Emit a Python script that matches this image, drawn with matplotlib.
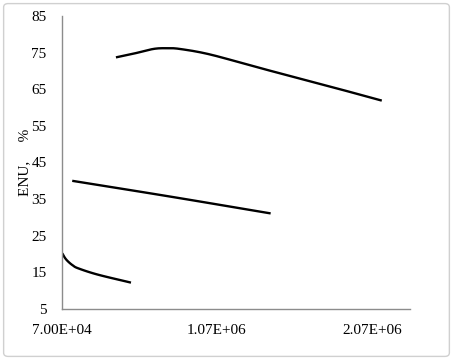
import matplotlib
matplotlib.use("Agg")
import matplotlib.pyplot as plt
from matplotlib.patches import FancyBboxPatch
import numpy as np

# Data
s1_x = [4.18e5, 5.3e5, 6.59e5, 7.45e5, 8.31e5, 1.025e6, 1.347e6, 1.75e6, 2.133e6]
s1_y = [73.7, 74.7, 76.0, 76.2, 76.0, 74.5, 70.8, 66.3, 61.9]
s2_x = [1.36e5, 7.67e5, 1.416e6]
s2_y = [40.0, 35.7, 31.1]
s3_x = [7.2e4, 9.0e4, 1.11e5, 1.4e5, 1.75e5, 3.0e5, 5.15e5]
s3_y = [20.2, 18.9, 17.9, 16.9, 16.1, 14.4, 12.2]

x_ticks = [7.0e4, 1.07e6, 2.07e6]
x_tick_labels = ["7.00E+04", "1.07E+06", "2.07E+06"]
y_ticks = [5, 15, 25, 35, 45, 55, 65, 75, 85]
y_label = "ENU,     %"


def smooth(xs, ys, n=20):
    xs = np.asarray(xs, float)
    ys = np.asarray(ys, float)
    if len(xs) < 3:
        return xs, ys
    px = np.concatenate([[2 * xs[0] - xs[1]], xs, [2 * xs[-1] - xs[-2]]])
    py = np.concatenate([[2 * ys[0] - ys[1]], ys, [2 * ys[-1] - ys[-2]]])
    ox, oy = [], []
    t = np.linspace(0, 1, n, endpoint=False)
    for i in range(1, len(px) - 2):
        for P, out in ((px, ox), (py, oy)):
            p0, p1, p2, p3 = P[i - 1], P[i], P[i + 1], P[i + 2]
            out.extend(0.5 * ((2 * p1) + (-p0 + p2) * t
                              + (2 * p0 - 5 * p1 + 4 * p2 - p3) * t ** 2
                              + (-p0 + 3 * p1 - 3 * p2 + p3) * t ** 3))
    ox.append(xs[-1])
    oy.append(ys[-1])
    return np.array(ox), np.array(oy)


plt.rcParams['font.family'] = ['Liberation Serif', 'DejaVu Serif']

fig = plt.figure(figsize=(4.53, 3.6), dpi=100)
fig.patches.append(FancyBboxPatch((0.008, 0.01), 0.984, 0.98,
                                  boxstyle="round,pad=0,rounding_size=0.01",
                                  transform=fig.transFigure, fill=False,
                                  edgecolor="#d0d0d0", linewidth=1.0))

ax = fig.add_axes([62 / 453, 1 - 309 / 360, (410 - 62) / 453, (309 - 16) / 360])

for xs, ys in ((s1_x, s1_y), (s2_x, s2_y), (s3_x, s3_y)):
    sx, sy = smooth(xs, ys)
    ax.plot(sx, sy, color="black", linewidth=1.7, solid_capstyle="butt")

ax.set_xlim(7.0e4, 2.315e6)
ax.set_ylim(5, 85)
ax.set_xticks(x_ticks)
ax.set_xticklabels(x_tick_labels)
ax.set_yticks(y_ticks)
ax.tick_params(axis="both", length=0, labelsize=11, colors="black")
ax.tick_params(axis="x", pad=11)
ax.tick_params(axis="y", pad=11)
ax.set_ylabel(y_label, fontsize=11, labelpad=0)

for side in ("top", "right"):
    ax.spines[side].set_visible(False)
for side in ("left", "bottom"):
    ax.spines[side].set_color("#8c8c8c")
    ax.spines[side].set_linewidth(1.0)

fig.savefig("out.png", dpi=100)
